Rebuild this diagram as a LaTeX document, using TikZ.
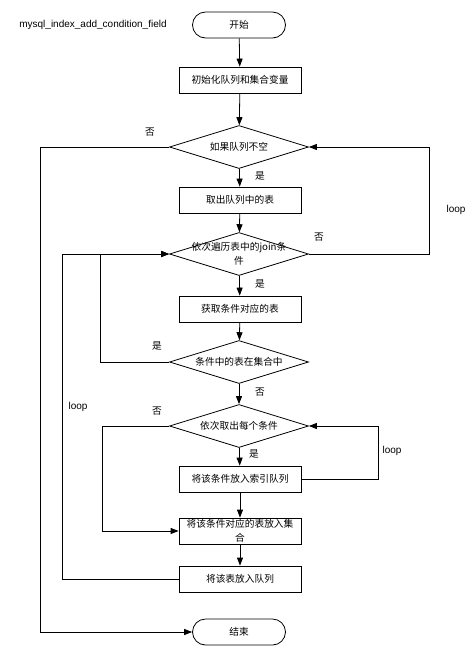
\documentclass[tikz,border=0pt]{standalone}
\usepackage{fontspec}
\setmainfont{Liberation Sans}
\newfontfamily\cjk{Noto Sans CJK SC}
\usetikzlibrary{arrows.meta, shapes.geometric}

\begin{document}
\begin{tikzpicture}[>={Triangle[length=8pt,width=6pt]}, x=1pt, y=-1pt, line width=0.8pt,
    every node/.style={font=\cjk\fontsize{9.7}{14}\selectfont},
    terminal/.style={draw, rectangle, rounded corners=13pt, minimum width=93pt, minimum height=26pt, inner sep=0pt},
    process/.style={draw, rectangle, minimum width=122pt, minimum height=26pt, inner sep=0pt, align=center},
    decision/.style={draw, diamond, aspect=3.23, minimum width=139pt, minimum height=43pt, inner sep=0pt, align=center},
    tag/.style={font=\fontsize{10}{12}\selectfont}]

    \useasboundingbox (0,0) rectangle (475,657);

    % Title
    \node[tag] at (93, 25) (title) {mysql\_index\_add\_condition\_field};

    % Main column
    \node[terminal] at (239, 25) (start) {开始};
    \node[process] at (240, 80) (init) {初始化队列和集合变量};
    \node[decision] at (239, 147) (notEmpty) {如果队列不空};
    \node[process] at (240, 200) (popTable) {取出队列中的表};
    \node[decision] at (239, 254) (joinLoop) {\makebox[0pt]{依次遍历表中的join条}\\件};
    \node[process] at (240, 309) (getTable) {获取条件对应的表};
    \node[decision] at (239, 362) (inSet) {条件中的表在集合中};
    \node[decision] at (239, 426) (condLoop) {依次取出每个条件};
    \node[process] at (240, 479) (pushIndex) {将该条件放入索引队列};
    \node[process] at (240, 531) (addSet) {将该条件对应的表放入集\\合};
    \node[process] at (240, 579) (pushQueue) {将该表放入队列};
    \node[terminal] at (239, 632) (stop) {结束};

    % Straight arrows
    \draw[->] (start) -- (init);
    \draw[->] (init) -- (notEmpty);
    \draw[->] (notEmpty) -- (popTable);
    \draw[->] (popTable) -- (joinLoop);
    \draw[->] (joinLoop) -- (getTable);
    \draw[->] (getTable) -- (inSet);
    \draw[->] (inSet) -- (condLoop);
    \draw[->] (condLoop) -- (pushIndex);
    \draw[->] (pushIndex) -- (addSet);
    \draw[->] (addSet) -- (pushQueue);

    % Branches and loops
    \draw[->] (notEmpty.west) -- ++(-129,0) |- (stop.west);
    \draw[->] (joinLoop.east) -- ++(120,0) |- (notEmpty.east);
    \draw[->] (inSet.west) -- ++(-69,0) |- (joinLoop.west);
    \draw[->] (pushQueue.west) -- ++(-116,0) |- (joinLoop.west);
    \draw[->] (condLoop.west) -- ++(-67,0) |- (addSet.west);
    \draw[->] (pushIndex.east) -- ++(77,0) |- (condLoop.east);

    % Branch labels
    \node at (150, 132) (no1) {否};
    \node at (260, 176) (yes1) {是};
    \node[tag] at (456, 210) (loop1) {loop};
    \node at (319, 237) (no2) {否};
    \node at (260, 284) (yes2) {是};
    \node at (157, 346) (yes3) {是};
    \node[tag] at (78, 407) (loop2) {loop};
    \node at (260, 392) (no3) {否};
    \node at (157, 411) (no4) {否};
    \node at (254, 454) (yes4) {是};
    \node[tag] at (392, 451) (loop3) {loop};
\end{tikzpicture}
\end{document}
